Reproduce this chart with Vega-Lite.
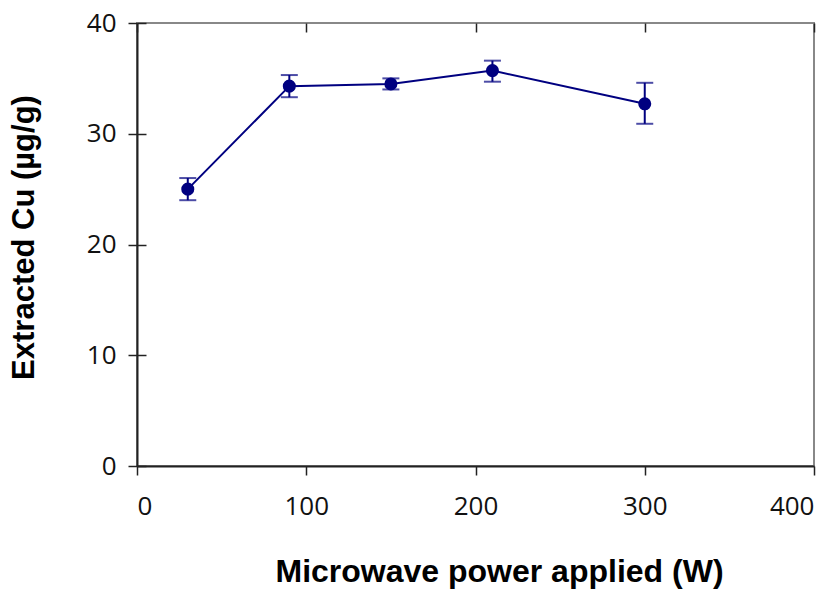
{
  "$schema": "https://vega.github.io/schema/vega-lite/v6.json",
  "autosize": "none",
  "width": 677,
  "height": 443,
  "padding": {"left": 137, "top": 23, "right": 26, "bottom": 127},
  "background": "white",
  "config": {
    "view": {"stroke": "#888888", "strokeWidth": 2},
    "axis": {
      "domainColor": "#222222", "domainWidth": 2,
      "tickColor": "#222222", "tickWidth": 1.5, "tickSize": 9,
      "labelFont": "Open Sans", "labelFontSize": 26, "labelColor": "#111111",
      "titleFont": "Liberation Sans", "titleFontWeight": "bold", "titleFontSize": 31, "titleColor": "#000000",
      "grid": true, "gridColor": "#222222", "gridWidth": 1.5, "gridDash": [9, 3000]
    }
  },
  "data": {"values": [
    {"power": 30, "cu": 25.0, "lo": 24.0, "hi": 26.0},
    {"power": 90, "cu": 34.3, "lo": 33.3, "hi": 35.3},
    {"power": 150, "cu": 34.5, "lo": 34.0, "hi": 35.0},
    {"power": 210, "cu": 35.7, "lo": 34.7, "hi": 36.6},
    {"power": 300, "cu": 32.7, "lo": 30.9, "hi": 34.6}
  ]},
  "encoding": {
    "x": {"field": "power", "type": "quantitative",
      "scale": {"domain": [0, 400], "nice": false, "zero": false},
      "axis": {"values": [0, 100, 200, 300, 400], "title": "Microwave power applied (W)", "labelPadding": 18,
        "titleFontSize": 32,
        "titleX": 362, "titleY": 115, "titleAnchor": null, "titleAlign": "center", "titleBaseline": "alphabetic"}}
  },
  "layer": [
    {
      "mark": {"type": "rule", "color": "#000080", "strokeWidth": 2},
      "encoding": {
        "y": {"field": "lo", "type": "quantitative",
          "scale": {"domain": [0, 40], "nice": false},
          "axis": {"values": [0, 10, 20, 30, 40], "title": "Extracted Cu (µg/g)", "labelPadding": 12,
            "titleX": -113, "titleY": 214, "titleAngle": -90, "titleBaseline": "middle", "titleAlign": "center"}},
        "y2": {"field": "hi"}
      }
    },
    {
      "mark": {"type": "tick", "color": "#000080", "orient": "horizontal", "size": 17, "thickness": 2},
      "encoding": {"y": {"field": "lo", "type": "quantitative"}}
    },
    {
      "mark": {"type": "tick", "color": "#000080", "orient": "horizontal", "size": 17, "thickness": 2},
      "encoding": {"y": {"field": "hi", "type": "quantitative"}}
    },
    {
      "mark": {"type": "line", "color": "#000080", "strokeWidth": 2},
      "encoding": {"y": {"field": "cu", "type": "quantitative"}}
    },
    {
      "mark": {"type": "point", "shape": "circle", "filled": true, "color": "#000080", "opacity": 1, "size": 170},
      "encoding": {"y": {"field": "cu", "type": "quantitative"}}
    }
  ]
}
